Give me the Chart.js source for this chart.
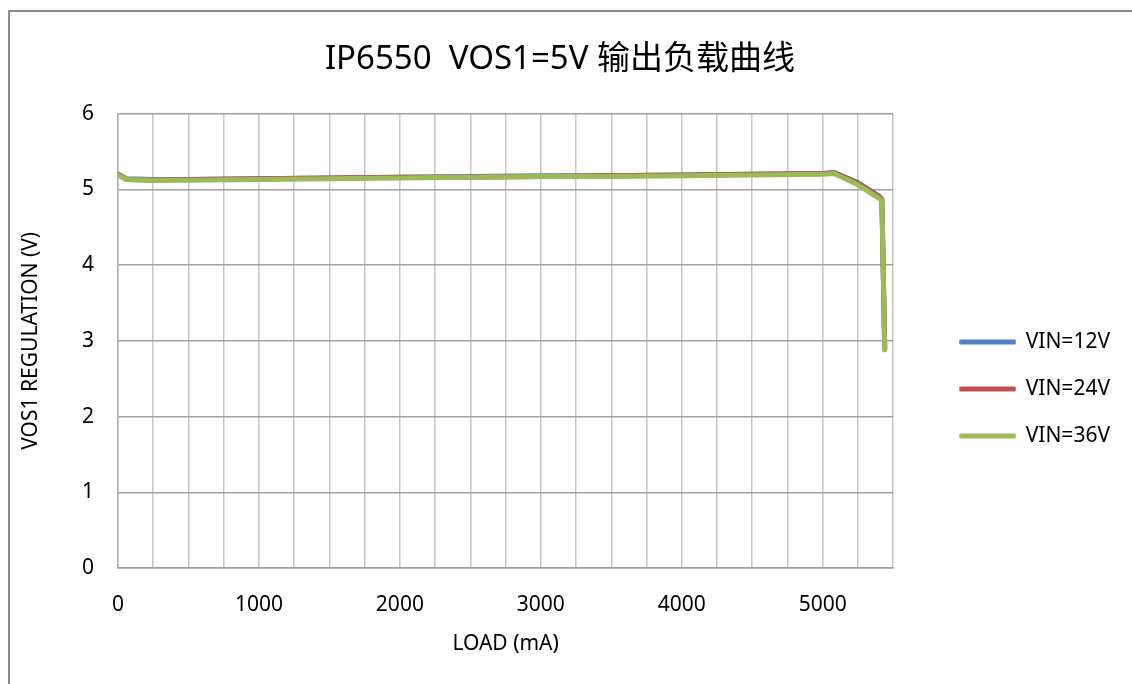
<!DOCTYPE html>
<html>
<head>
<meta charset="utf-8">
<title>IP6550 VOS1=5V 输出负载曲线</title>
<script src="https://cdn.jsdelivr.net/npm/chart.js@4.4.1/dist/chart.umd.min.js"></script>
<style>
    html, body { margin: 0; padding: 0; background: #fff; overflow: hidden; }
    #frame { position: absolute; left: 8px; top: 10px; width: 1200px; height: 800px; border: 2px solid #8c8c8c; box-sizing: border-box; }
    #wrap { position: absolute; left: 0; top: 0; width: 1132px; height: 684px; }
</style>
</head>
<body>
<div id="frame"></div>
<div id="wrap"><canvas id="loadChart"></canvas></div>
<script>
// ========== DADOS ==========
const loadMa = [0, 60, 250, 500, 1000, 1500, 2000, 2500, 3000, 3500, 4000, 4500, 5000, 5080, 5250, 5400, 5420, 5440];
const vin12V = [5.20, 5.14, 5.13, 5.13, 5.14, 5.15, 5.16, 5.17, 5.18, 5.18, 5.19, 5.20, 5.21, 5.22, 5.09, 4.91, 4.87, 2.90];
const vin24V = [5.20, 5.13, 5.12, 5.13, 5.14, 5.15, 5.16, 5.16, 5.17, 5.18, 5.19, 5.20, 5.21, 5.22, 5.08, 4.90, 4.86, 2.90];
const vin36V = [5.19, 5.13, 5.12, 5.12, 5.13, 5.14, 5.15, 5.16, 5.17, 5.17, 5.18, 5.19, 5.20, 5.21, 5.06, 4.88, 4.85, 2.88];
const seriesNames = ['VIN=12V', 'VIN=24V', 'VIN=36V'];
const xLabelEvery = 1000;

const COLORS = ['#4F81BD', '#C0504D', '#9BBB59'];

Chart.defaults.font.family = "'Noto Sans', 'Noto Sans CJK SC', sans-serif";
Chart.defaults.color = '#000';

function toPoints(values) {
    return loadMa.map((x, i) => ({ x: x, y: values[i] }));
}

function makeSet(i, values, order) {
    return {
        label: seriesNames[i],
        data: toPoints(values),
        borderColor: COLORS[i],
        backgroundColor: COLORS[i],
        borderWidth: 5,
        borderJoinStyle: 'round',
        borderCapStyle: 'round',
        pointRadius: 0,
        tension: 0,
        order: order
    };
}

new Chart(document.getElementById('loadChart'), {
    type: 'line',
    data: {
        datasets: [makeSet(0, vin12V, 2), makeSet(1, vin24V, 1), makeSet(2, vin36V, 0)]
    },
    options: {
        responsive: true,
        maintainAspectRatio: false,
        animation: false,
        layout: { padding: { top: 0, right: 12, bottom: 0, left: 0 } },
        plugins: {
            title: {
                display: true,
                text: 'IP6550  VOS1=5V 输出负载曲线',
                font: { size: 33, weight: 'normal' },
                color: '#000',
                padding: { top: 40, bottom: 34 }
            },
            legend: {
                position: 'right',
                align: 'center',
                // título vazio só para empurrar as entradas para baixo
                title: { display: true, text: ' ', font: { size: 10 }, padding: { top: 0, bottom: 82 } },
                labels: {
                    boxWidth: 55,
                    boxHeight: 4,
                    padding: 26,
                    font: { size: 21 },
                    color: '#000',
                    sort: (a, b) => a.datasetIndex - b.datasetIndex,
                    generateLabels: function (chart) {
                        return Chart.defaults.plugins.legend.labels.generateLabels(chart)
                            .map(l => Object.assign(l, { lineWidth: 1 }));
                    }
                }
            },
            tooltip: { enabled: false }
        },
        scales: {
            x: {
                type: 'linear',
                min: 0,
                max: 5500,
                ticks: {
                    stepSize: 250,
                    autoSkip: false,
                    maxRotation: 0,
                    padding: 24,
                    font: { size: 21 },
                    callback: function (value) {
                        return value % xLabelEvery === 0 ? value : '';
                    }
                },
                grid: { color: '#c6c6c6', lineWidth: 1.5, drawTicks: false },
                border: { color: '#a0a0a0', width: 1.5 },
                title: {
                    display: true,
                    text: 'LOAD (mA)',
                    font: { size: 21 },
                    padding: { top: 27, bottom: 27 }
                },
                afterFit: function (scale) { scale.height = 116; }
            },
            y: {
                min: 0,
                max: 6,
                ticks: { stepSize: 1, padding: 24, font: { size: 21 } },
                grid: { color: '#a0a0a0', lineWidth: 1.5, drawTicks: false },
                border: { color: '#b0b0b0', width: 1.5 },
                title: {
                    display: true,
                    text: 'VOS1 REGULATION (V)',
                    font: { size: 21 },
                    padding: { top: 18, bottom: 18 }
                },
                afterFit: function (scale) { scale.width = 118; }
            },
            // espaço entre a área do gráfico e a legenda
            gap: {
                type: 'linear',
                position: 'right',
                display: true,
                min: 0,
                max: 1,
                ticks: { display: false },
                grid: { display: false },
                border: { display: false },
                afterFit: function (scale) { scale.width = 41; }
            }
        }
    }
});
</script>
</body>
</html>
